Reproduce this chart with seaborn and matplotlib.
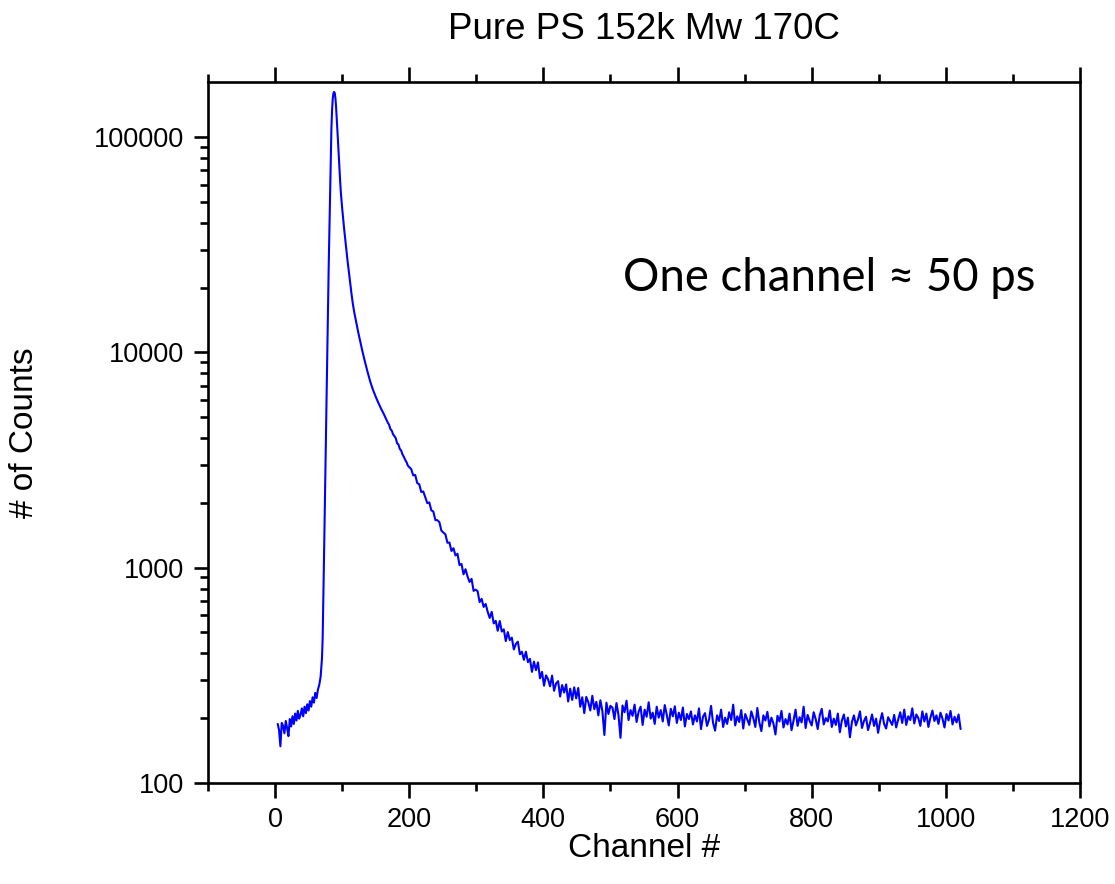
import numpy as np
import pandas as pd
import matplotlib
matplotlib.use("Agg")
import matplotlib.pyplot as plt
import matplotlib.ticker as mticker
import seaborn as sns

# ---------------- data ----------------
# pre-peak background, channels 4..68 step 2
ch_pre = list(range(4, 69, 2))
counts_pre = [188, 176, 148, 190, 184, 170, 194, 180, 165, 198, 183, 204, 188, 210,
              195, 216, 199, 207, 222, 204, 226, 211, 232, 217, 240, 226, 250, 236,
              262, 248, 272, 286, 312]

# prompt peak, channels 69..116 step 1
ch_peak = list(range(69, 117))
counts_peak = [345, 380, 470, 700, 1100, 1700, 2700, 4200, 6600, 10500,
               16500, 25000, 36000, 52000, 78000, 108000, 133000, 150000, 159000, 162000,
               160000, 152000, 138000, 122000, 108000, 94000, 82000, 72000, 63000, 56000,
               51000, 47000, 43500, 40500, 37500, 35000, 32500, 30500, 28500, 26800,
               25200, 23700, 22300, 21000, 19800, 18700, 17700, 16800]

# early decay, channels 118..200 step 2
ch_decay = list(range(118, 201, 2))
counts_decay = [15400, 14300, 13300, 12400, 11600, 10900, 10200, 9600, 9050, 8550,
                8100, 7680, 7300, 6980, 6700, 6450, 6230, 6020, 5830, 5650,
                5480, 5330, 5180, 5020, 4870, 4720, 4610, 4400, 4330, 4160,
                4080, 3990, 3780, 3730, 3560, 3500, 3360, 3270, 3170, 3090,
                2980, 2930]

# long-lived tail, channels 203..500 step 3
ch_tail = list(range(203, 501, 3))
counts_tail = [2871, 2683, 2693, 2470, 2439, 2246, 2259, 2125, 1994, 2009,
               1846, 1821, 1664, 1661, 1627, 1485, 1455, 1428, 1305, 1308,
               1195, 1231, 1139, 1160, 1028, 1040, 931, 983, 910, 858,
               887, 780, 790, 778, 692, 716, 657, 678, 624, 584,
               623, 551, 566, 509, 565, 505, 517, 456, 502, 461,
               473, 417, 442, 453, 396, 407, 373, 407, 364, 377,
               328, 366, 334, 363, 306, 328, 283, 316, 303, 281,
               315, 268, 290, 297, 252, 285, 263, 287, 239, 274,
               243, 278, 247, 276, 226, 250, 211, 251, 237, 217,
               254, 220, 238, 206, 242, 216, 167, 236, 209, 228]

# random-coincidence background, channels 503..1022 step 3
ch_bg = list(range(503, 1023, 3))
counts_bg = [224, 198, 235, 207, 162, 229, 213, 241, 196, 218,
             205, 231, 192, 214, 226, 186, 219, 203, 237, 199,
             212, 188, 226, 201, 218, 193, 230, 207, 185, 221,
             204, 227, 190, 212, 196, 224, 183, 209, 198, 215,
             187, 206, 193, 222, 178, 203, 211, 184, 197, 228,
             190, 175, 206, 194, 219, 182, 201, 188, 213, 196,
             231, 185, 204, 192, 218, 179, 209, 197, 186, 215,
             200, 182, 223, 191, 174, 206, 195, 214, 183, 201,
             189, 168, 205, 193, 216, 181, 198, 187, 210, 176,
             195, 219, 184, 202, 191, 226, 180, 207, 194, 185,
             213, 198, 178, 206, 221, 187, 200, 193, 217, 182,
             199, 186, 210, 172, 195, 208, 183, 201, 163, 192,
             206, 185, 197, 215, 180, 194, 203, 176, 190, 208,
             184, 199, 171, 193, 211, 188, 179, 202, 194, 186,
             207, 181, 197, 213, 190, 219, 186, 204, 196, 222,
             189, 208, 200, 184, 215, 193, 210, 182, 201, 217,
             194, 206, 188, 212, 199, 181, 209, 195, 216, 187,
             203, 191, 208, 178]

title = "Pure PS 152k Mw 170C"
xlabel = "Channel #"
ylabel = "# of Counts"
note = "One channel \u2248 50 ps"
x_ticks = [0, 200, 400, 600, 800, 1000, 1200]
y_ticks = [100, 1000, 10000, 100000]

# ---------------- build ----------------
df = pd.DataFrame({
    "channel": ch_pre + ch_peak + ch_decay + ch_tail + ch_bg,
    "counts": counts_pre + counts_peak + counts_decay + counts_tail + counts_bg,
})

sns.set_theme(style="ticks")
plt.rcParams["font.family"] = ["Liberation Sans", "DejaVu Sans"]

fig = plt.figure(figsize=(11.15, 8.84), dpi=100)
ax = fig.add_axes([0.1865, 0.1143, 0.7821, 0.7929])

sns.lineplot(data=df, x="channel", y="counts", ax=ax, color="#0000FF",
             linewidth=1.5, estimator=None, sort=False)

ax.set_yscale("log")
ax.set_xlim(-100, 1200)
ax.set_ylim(100, 180000)

ax.set_xticks(x_ticks)
ax.xaxis.set_minor_locator(mticker.MultipleLocator(100))
ax.set_yticks(y_ticks)
ax.yaxis.set_major_formatter(mticker.FuncFormatter(lambda v, p: f"{int(round(v))}"))
ax.yaxis.set_minor_locator(mticker.LogLocator(base=10, subs=np.arange(2, 10)))
ax.yaxis.set_minor_formatter(mticker.NullFormatter())

for s in ax.spines.values():
    s.set_visible(True)
    s.set_linewidth(1.9)
    s.set_color("black")

ax.tick_params(axis="x", which="both", top=True, bottom=True, direction="out",
               labelsize=19.5, width=1.9, colors="black", pad=6)
ax.tick_params(axis="x", which="major", length=11)
ax.tick_params(axis="x", which="minor", length=6)
ax.tick_params(axis="y", which="both", left=True, right=False, direction="out",
               labelsize=19.5, width=1.9, colors="black", pad=7)
ax.tick_params(axis="y", which="major", length=10)
ax.tick_params(axis="y", which="minor", length=6)

ax.set_xlabel(xlabel, fontsize=24, labelpad=0, color="black")
ax.set_ylabel(ylabel, fontsize=24, labelpad=39, color="black")
ax.set_title(title, fontsize=26.5, pad=31, color="black")

ax.text(0.476, 0.72, note, transform=ax.transAxes, fontsize=32.8,
        family=["Lato", "DejaVu Sans"], va="center", ha="left", color="black")

ax.grid(False)
fig.savefig("out.png", dpi=100, facecolor="white")
